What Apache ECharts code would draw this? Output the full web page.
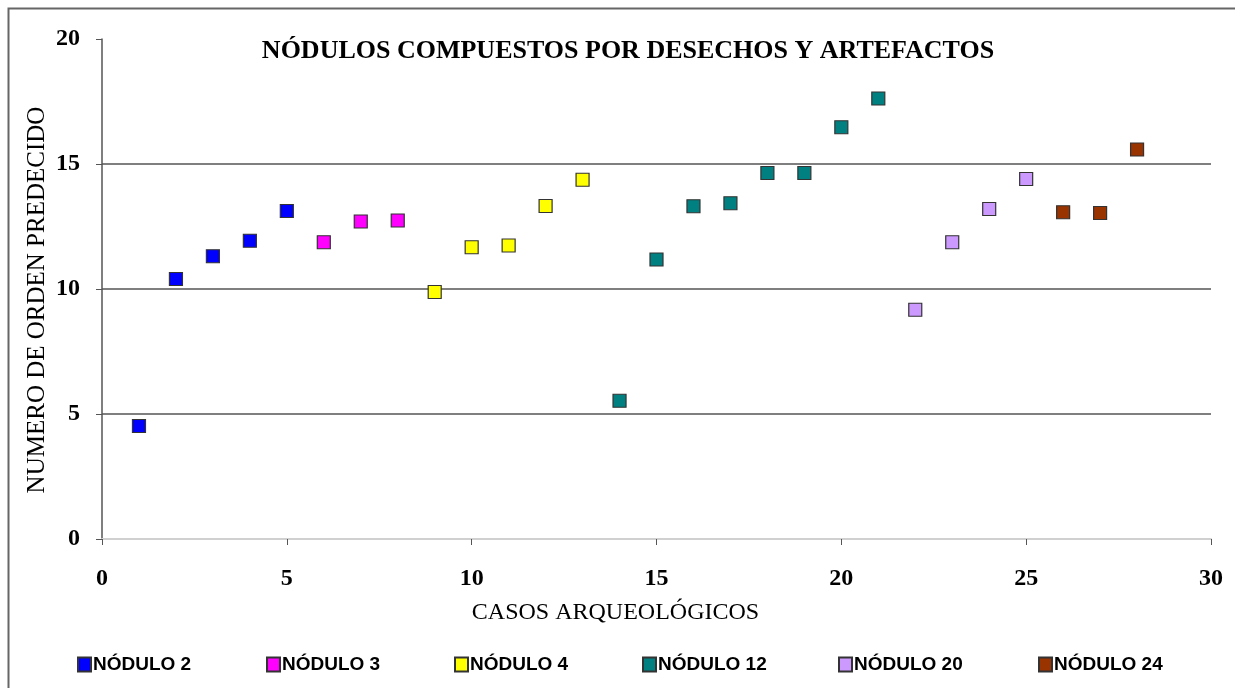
<!DOCTYPE html>
<html>
<head>
<meta charset="utf-8">
<script src="https://cdn.jsdelivr.net/npm/echarts@6/dist/echarts.min.js"></script>
<style>
html,body{margin:0;padding:0;background:#fff;}
#chart{width:1235px;height:688px;}
</style>
</head>
<body>
<div id="chart"></div>
<script>
// ---- data ----
const seriesNames = ['NÓDULO 2', 'NÓDULO 3', 'NÓDULO 4', 'NÓDULO 12', 'NÓDULO 20', 'NÓDULO 24'];
const nodulo2 = [[1, 4.52], [2, 10.40], [3, 11.31], [4, 11.93], [5, 13.12]];
const nodulo3 = [[6, 11.87], [7, 12.70], [8, 12.74]];
const nodulo4 = [[9, 9.88], [10, 11.67], [11, 11.74], [12, 13.32], [13, 14.37]];
const nodulo12 = [[14, 5.53], [15, 11.18], [16, 13.31], [17, 13.43], [18, 14.64], [19, 14.64], [20, 16.47], [21, 17.62]];
const nodulo20 = [[22, 9.17], [23, 11.87], [24, 13.20], [25, 14.40]];
const nodulo24 = [[26, 13.07], [27, 13.04], [28, 15.58]];
const seriesData = [nodulo2, nodulo3, nodulo4, nodulo12, nodulo20, nodulo24];
const colors = ['#0000FF', '#FF00FF', '#FFFF00', '#008080', '#CC99FF', '#993300'];
const titleText = 'NÓDULOS COMPUESTOS POR DESECHOS Y ARTEFACTOS';
const xName = 'CASOS ARQUEOLÓGICOS';
const yName = 'NUMERO DE ORDEN PREDECIDO';

// ---- chart ----
const chart = echarts.init(document.getElementById('chart'), null, {renderer: 'canvas'});
const serif = '"Liberation Serif", "DejaVu Serif", serif';
const legendLefts = [77, 266, 454, 642, 838, 1038];

const option = {
  backgroundColor: '#fff',
  animation: false,
  title: {
    text: titleText,
    left: 628, top: 38, textAlign: 'center', padding: 0,
    textStyle: {fontFamily: serif, fontSize: 26, fontWeight: 'bold', color: '#000'}
  },
  legend: seriesNames.map((n, i) => ({
    data: [n], left: legendLefts[i], top: 655, padding: 0,
    itemWidth: 13, itemHeight: 14, itemGap: 5,
    icon: 'rect',
    textStyle: {fontFamily: '"Liberation Sans", Arial, sans-serif', fontSize: 19, fontWeight: 'bold', color: '#000', padding: [0,0,0,-3]}
  })),
  grid: {left: 102, right: 24, top: 39, bottom: 149, containLabel: false},
  xAxis: {
    type: 'value', min: 0, max: 30, interval: 5,
    name: xName, nameLocation: 'middle', nameGap: 62,
    nameTextStyle: {fontFamily: serif, fontSize: 24, color: '#000', padding: [0, 82, 0, 0]},
    axisLine: {show: true, onZero: false, lineStyle: {color: '#d0d0d0', width: 2}},
    axisTick: {show: true, length: 6, lineStyle: {color: '#555'}},
    axisLabel: {margin: 28, fontFamily: serif, fontSize: 24, fontWeight: 'bold', color: '#000'},
    splitLine: {show: false}
  },
  yAxis: {
    type: 'value', min: 0, max: 20, interval: 5,
    name: yName, nameLocation: 'middle', nameGap: 52, nameRotate: 90, nameMoveOverlap: false,
    nameTextStyle: {fontFamily: serif, fontSize: 25, color: '#000', padding: [0, 22, 0, 0]},
    axisLine: {show: true, lineStyle: {color: '#555', width: 1.5}},
    axisTick: {show: true, length: 6, lineStyle: {color: '#555'}},
    axisLabel: {margin: 22, fontFamily: serif, fontSize: 24, fontWeight: 'bold', color: '#000'},
    splitLine: {show: true, showMinLine: false, showMaxLine: false, lineStyle: {color: '#555', width: 1.5}}
  },
  series: seriesNames.map((n, i) => ({
    name: n, type: 'scatter', symbol: 'rect', symbolSize: 13,
    data: seriesData[i],
    itemStyle: {color: colors[i], borderColor: '#333', borderWidth: 1.2, opacity: 1},
    emphasis: {disabled: true}
  })),
  graphic: [
    {type: 'polyline', silent: true, shape: {points: [[8.5, 700], [8.5, 8.5], [1240, 8.5]]},
     style: {stroke: '#666', lineWidth: 2, fill: null}}
  ]
};
chart.setOption(option);
</script>
</body>
</html>
